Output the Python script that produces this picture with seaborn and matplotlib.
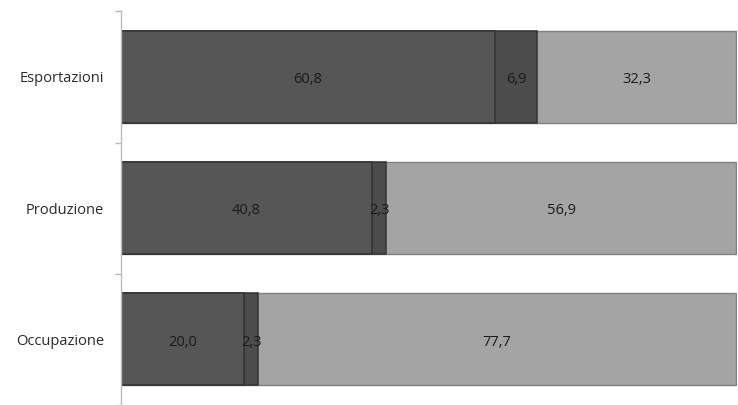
import matplotlib
matplotlib.use("Agg")
import matplotlib.pyplot as plt
import pandas as pd
import seaborn as sns

# Data
categories = ['Esportazioni', 'Produzione', 'Occupazione']
seg1 = [60.8, 40.8, 20.0]
seg2 = [6.9, 2.3, 2.3]
seg3 = [32.3, 56.9, 77.7]

df = pd.DataFrame({'cat': categories, 'a': seg1, 'b': seg2, 'c': seg3})
df['ab'] = df['a'] + df['b']
df['abc'] = df['ab'] + df['c']

sns.set_style('white')
plt.rcParams['font.family'] = ['Open Sans', 'DejaVu Sans']

fig = plt.figure(figsize=(7.38, 4.05), dpi=100)
ax = fig.add_axes([0.164, 0.0, 0.835, 0.972])

# layered bars: full length first, then the cumulative dark parts on top
sns.barplot(data=df, x='abc', y='cat', orient='h', color='#a4a4a4', width=0.7,
            edgecolor='#808080', linewidth=1, saturation=1, ax=ax)
sns.barplot(data=df, x='ab', y='cat', orient='h', color='#4c4c4c', width=0.7,
            edgecolor='#333333', linewidth=1.1, saturation=1, ax=ax)
sns.barplot(data=df, x='a', y='cat', orient='h', color='#565656', width=0.7,
            edgecolor='#333333', linewidth=1.1, saturation=1, ax=ax)

# value labels
def fmt(v):
    return f"{v:.1f}".replace('.', ',')

for i, row in df.iterrows():
    ax.text(row['a'] / 2, i + 0.02, fmt(row['a']), ha='center', va='center',
            fontsize=10.5, color='#1a1a1a')
    ax.text(row['a'] + row['b'] / 2, i + 0.02, fmt(row['b']), ha='center',
            va='center', fontsize=10.5, color='#1a1a1a')
    ax.text(row['ab'] + row['c'] / 2, i + 0.02, fmt(row['c']), ha='center',
            va='center', fontsize=10.5, color='#1a1a1a')

ax.set_xlim(0, 100.2)
ax.set_ylim(2.5, -0.5)
ax.set(xlabel='', ylabel='')
ax.set_xticks([])
ax.set_yticks([0, 1, 2])
ax.set_yticklabels(categories, fontsize=10.5, color='#2a2a2a')
ax.set_yticks([-0.5, 0.5, 1.5, 2.5], minor=True)
ax.tick_params(axis='y', which='major', left=False, length=0, pad=12)
ax.tick_params(axis='y', which='minor', left=True, length=4, color='#bbbbbb', width=1)

for s in ['top', 'right', 'bottom']:
    ax.spines[s].set_visible(False)
ax.spines['left'].set_color('#bbbbbb')
ax.spines['left'].set_linewidth(1)

fig.savefig('out.png', dpi=100)
